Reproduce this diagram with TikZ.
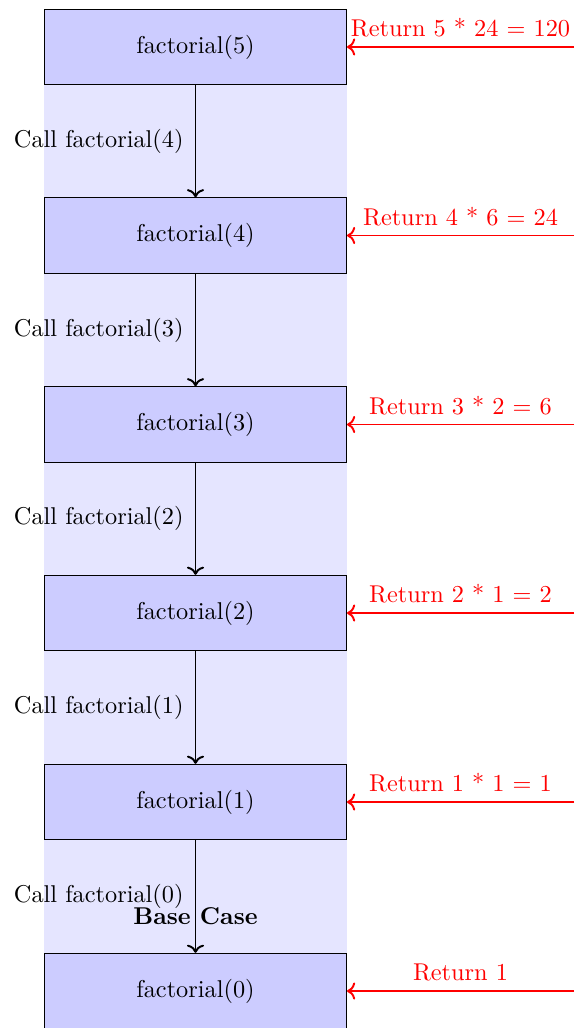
\documentclass[tikz,border=0pt]{standalone}
\usetikzlibrary{arrows.meta}
\begin{document}
\begin{tikzpicture}[x=0.4115pt,y=-0.4115pt,
  fbox/.style={draw=black,fill=blue!20,minimum width=124.3pt,minimum height=31pt,inner sep=0pt,line width=0.4pt},
  callarrow/.style={->,thick,black},
  retarrow/.style={->,thick,red},
  calllabel/.style={left,black,xshift=-1.2pt},
  baselabel/.style={below,black,font=\bfseries,inner sep=4pt},
  retlabel/.style={above,red,inner sep=3.6pt}]
\clip (0,0) rectangle (574,1028);
\fill[blue!10] (44,9) rectangle (347,1100);
\foreach \n/\y in {5/47,4/235.5,3/424.5,2/613,1/802,0/991}{
  \node[fbox] (f\n) at (195.5,\y) {factorial(\n)};
  \coordinate (r\n) at (574,\y);
}
\foreach \a/\b in {5/4,4/3,3/2,2/1}{
  \draw[callarrow] (f\a) -- node[calllabel] {Call factorial(\b)} (f\b);
}
\draw[callarrow] (f1) -- node[calllabel] {Call factorial(0)} node[baselabel] {Base Case} (f0);
\draw[retarrow] (r5) -- node[retlabel] {Return 5 * 24 = 120} (f5);
\draw[retarrow] (r4) -- node[retlabel] {Return 4 * 6 = 24} (f4);
\draw[retarrow] (r3) -- node[retlabel] {Return 3 * 2 = 6} (f3);
\draw[retarrow] (r2) -- node[retlabel] {Return 2 * 1 = 2} (f2);
\draw[retarrow] (r1) -- node[retlabel] {Return 1 * 1 = 1} (f1);
\draw[retarrow] (r0) -- node[retlabel] {Return 1} (f0);
\end{tikzpicture}
\end{document}
